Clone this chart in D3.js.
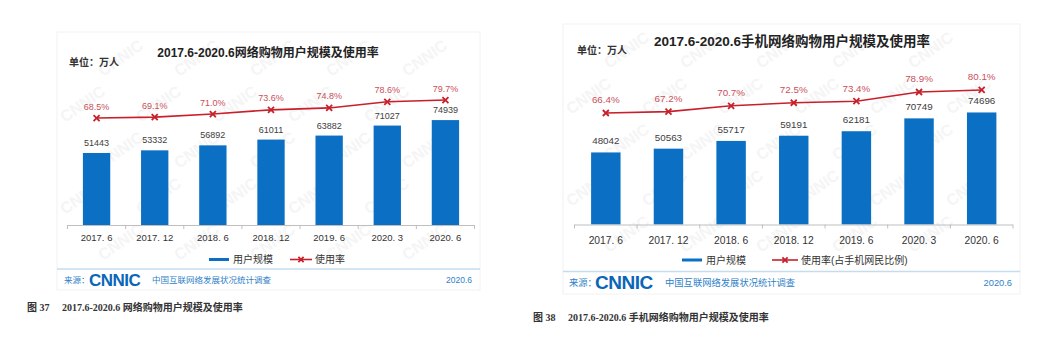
<!DOCTYPE html>
<html><head><meta charset="utf-8">
<script src="https://cdn.jsdelivr.net/npm/d3@7"></script>
<style>
body{margin:0;background:#fff;}
svg{display:block;font-family:"Liberation Sans","Noto Sans CJK SC",sans-serif;}
</style>
</head><body>
<svg id="c" width="1054" height="344"></svg>
<script>
// ---------- data ----------
const categories = ["2017. 6","2017. 12","2018. 6","2018. 12","2019. 6","2020. 3","2020. 6"];
const shopUsers = [51443,53332,56892,61011,63882,71027,74939];
const shopRate = [68.5,69.1,71.0,73.6,74.8,78.6,79.7];
const mobileUsers = [48042,50563,55717,59191,62181,70749,74696];
const mobileRate = [66.4,67.2,70.7,72.5,73.4,78.9,80.1];
const titleLeft = "2017.6-2020.6网络购物用户规模及使用率";
const titleRight = "2017.6-2020.6手机网络购物用户规模及使用率";
const unitLabel = "单位：万人";
const legendBar = "用户规模";
const legendLineLeft = "使用率";
const legendLineRight = "使用率(占手机网民比例)";
const sourcePrefix = "来源：";
const sourceLogo = "CNNIC";
const sourceName = "中国互联网络发展状况统计调查";
const sourceDate = "2020.6";
const captionLeft = ["图 37", "2017.6-2020.6 网络购物用户规模及使用率"];
const captionRight = ["图 38", "2017.6-2020.6 手机网络购物用户规模及使用率"];

// ---------- style ----------
const BLUE = "#0B70C4", RED = "#C8202B", PINK = "#C9505A", DARK = "#404040", SRC = "#2F7FC8";
const svg = d3.select("#c");

function drawPanel(o, users, rates, title, lineLegend, caption, idx) {
  const g = svg.append("g");
  // panel + faint watermark (kept fully inside the panel)
  g.append("rect").attr("x", o.px0).attr("y", o.py0).attr("width", o.px1 - o.px0).attr("height", o.py1 - o.py0)
    .attr("fill", "#fff").attr("stroke", "#f2f2f2");
  const wm = g.append("g");
  for (let yy = o.py0 + 45; yy < o.py1 - 5; yy += 46) {
    for (let xx = o.px0 + 8 + ((Math.round((yy - o.py0) / 46)) % 2) * 38; xx < o.px1 - 60; xx += 76) {
      wm.append("text").attr("transform", `translate(${xx},${yy}) rotate(-35)`)
        .attr("font-size", 16).attr("font-weight", "bold").attr("fill", "#f5f5f5").text("CNNIC");
    }
  }

  const xSlot = d3.scaleBand().domain(categories).range([o.x0, o.x1]).padding(0);
  const bw = xSlot.bandwidth();
  const barW = bw * o.barFrac;
  const yBar = d3.scaleLinear().domain([0, 80000]).range(o.barRange);
  const yRate = d3.scaleLinear().domain([60, 90]).range(o.rateRange);
  const cx = c => xSlot(c) + bw / 2;

  // title & unit
  g.append("text").attr("x", o.titleX).attr("y", o.titleY).attr("text-anchor", "middle")
    .attr("font-size", o.titleSize).attr("font-weight", "bold").attr("fill", "#222").text(title);
  g.append("text").attr("x", o.unitX).attr("y", o.unitY).attr("font-size", 10).attr("font-weight", "bold")
    .attr("fill", "#333").text(unitLabel);

  // bars
  g.selectAll(".bar").data(users).enter().append("rect")
    .attr("x", (d, i) => cx(categories[i]) - barW / 2).attr("width", barW)
    .attr("y", d => yBar(d)).attr("height", d => yBar(0) - yBar(d)).attr("fill", BLUE);
  g.selectAll(".vl").data(users).enter().append("text")
    .attr("x", (d, i) => cx(categories[i])).attr("y", d => yBar(d) - o.valOff)
    .attr("text-anchor", "middle").attr("font-size", o.numSize).attr("fill", DARK).text(d => d);

  // axis
  const base = yBar(0);
  g.append("line").attr("x1", o.x0).attr("x2", o.x1).attr("y1", base + 0.5).attr("y2", base + 0.5)
    .attr("stroke", "#bfbfbf").attr("stroke-width", 1);
  const edges = categories.map(c => xSlot(c)).concat([o.x1]);
  g.selectAll(".tk").data(edges).enter().append("line")
    .attr("x1", d => d).attr("x2", d => d).attr("y1", base).attr("y2", base + 4)
    .attr("stroke", "#bfbfbf");
  g.selectAll(".cl").data(categories).enter().append("text")
    .attr("x", c => cx(c)).attr("y", o.catY).attr("text-anchor", "middle")
    .attr("font-size", o.catSize).attr("fill", "#333").text(c => c);

  // line
  const line = d3.line().x((d, i) => cx(categories[i])).y(d => yRate(d));
  g.append("path").datum(rates).attr("d", line).attr("fill", "none").attr("stroke", RED).attr("stroke-width", 1.6);
  const xMark = (sel, s) => sel.append("path")
    .attr("d", `M${-s},${-s}L${s},${s}M${-s},${s}L${s},${-s}`)
    .attr("stroke", RED).attr("stroke-width", 1.8).attr("fill", "none");
  rates.forEach((d, i) => {
    xMark(g.append("g").attr("transform", `translate(${cx(categories[i])},${yRate(d)})`), 3);
  });
  g.selectAll(".pl").data(rates).enter().append("text")
    .attr("x", (d, i) => cx(categories[i])).attr("y", d => yRate(d) - o.pctOff)
    .attr("text-anchor", "middle").attr("font-size", o.numSize).attr("fill", PINK).text(d => d.toFixed(1) + "%");

  // legend
  const ly = o.legY;
  g.append("line").attr("x1", o.leg1).attr("x2", o.leg1 + 20).attr("y1", ly).attr("y2", ly)
    .attr("stroke", BLUE).attr("stroke-width", 3);
  g.append("text").attr("x", o.leg1 + 24).attr("y", ly + 3.6).attr("font-size", 10).attr("fill", "#333").text(legendBar);
  g.append("line").attr("x1", o.leg2).attr("x2", o.leg2 + o.leg2w).attr("y1", ly).attr("y2", ly)
    .attr("stroke", RED).attr("stroke-width", 1.6);
  xMark(g.append("g").attr("transform", `translate(${o.leg2 + o.leg2w / 2},${ly})`), 2.6);
  g.append("text").attr("x", o.leg2 + o.leg2w + 3).attr("y", ly + 3.6).attr("font-size", 10).attr("fill", "#333").text(lineLegend);

  // source rule
  g.append("line").attr("x1", o.px0).attr("x2", o.px1).attr("y1", o.ruleY).attr("y2", o.ruleY)
    .attr("stroke", "#c5dbef").attr("stroke-width", 1.5);
  const sy = o.srcY;
  g.append("text").attr("x", o.srcX).attr("y", sy + 3).attr("font-size", o.srcSize).attr("fill", SRC).text(sourcePrefix);
  g.append("text").attr("x", o.logoX).attr("y", sy + 6).attr("font-size", o.logoSize).attr("font-weight", "bold")
    .attr("letter-spacing", -0.5).attr("fill", "#0A66B8").text(sourceLogo);
  g.append("text").attr("x", o.srcNameX).attr("y", sy + 3).attr("font-size", o.srcSize).attr("fill", SRC).text(sourceName);
  g.append("text").attr("x", o.dateX).attr("y", sy + 3).attr("text-anchor", "end").attr("font-size", o.srcSize)
    .attr("fill", SRC).text(sourceDate);

  // caption
  g.append("text").attr("x", o.capX).attr("y", o.capY).attr("font-size", 10).attr("font-weight", "bold")
    .attr("font-family", "'Liberation Serif','Noto Sans CJK SC',serif").attr("fill", "#333").text(caption[0]);
  g.append("text").attr("x", o.capX + 35).attr("y", o.capY).attr("font-size", 10).attr("font-weight", "bold")
    .attr("font-family", "'Liberation Serif','Noto Sans CJK SC',serif").attr("fill", "#333").text(caption[1]);
}

drawPanel({
  px0: 57, px1: 480, py0: 32, py1: 290,
  x0: 67.5, x1: 474.5, barFrac: 0.47,
  barRange: [225, 113], rateRange: [131.7, 83.5],
  titleX: 268, titleY: 57, titleSize: 12,
  unitX: 69, unitY: 66,
  valOff: 7, pctOff: 8.5, numSize: 9, catY: 240.5, catSize: 9.5,
  legY: 259.5, leg1: 209, leg2: 290, leg2w: 22,
  ruleY: 269, srcY: 280, srcX: 64, srcSize: 8.5, logoX: 89, logoSize: 17, srcNameX: 152, dateX: 472,
  capX: 27, capY: 311
}, shopUsers, shopRate, titleLeft, legendLineLeft, captionLeft, 0);

drawPanel({
  px0: 563, px1: 1020, py0: 24, py1: 294,
  x0: 574.5, x1: 1013, barFrac: 0.47,
  barRange: [224.5, 104.5], rateRange: [123.75, 73.35],
  titleX: 792, titleY: 45.5, titleSize: 13.5,
  unitX: 577, unitY: 54,
  valOff: 8, pctOff: 9.5, numSize: 9.8, catY: 244, catSize: 10.3,
  legY: 260, leg1: 682, leg2: 772, leg2w: 26,
  ruleY: 271.5, srcY: 283, srcX: 569, srcSize: 9.3, logoX: 595, logoSize: 19, srcNameX: 665, dateX: 1012,
  capX: 533, capY: 321
}, mobileUsers, mobileRate, titleRight, legendLineRight, captionRight, 1);
</script>
</body></html>
